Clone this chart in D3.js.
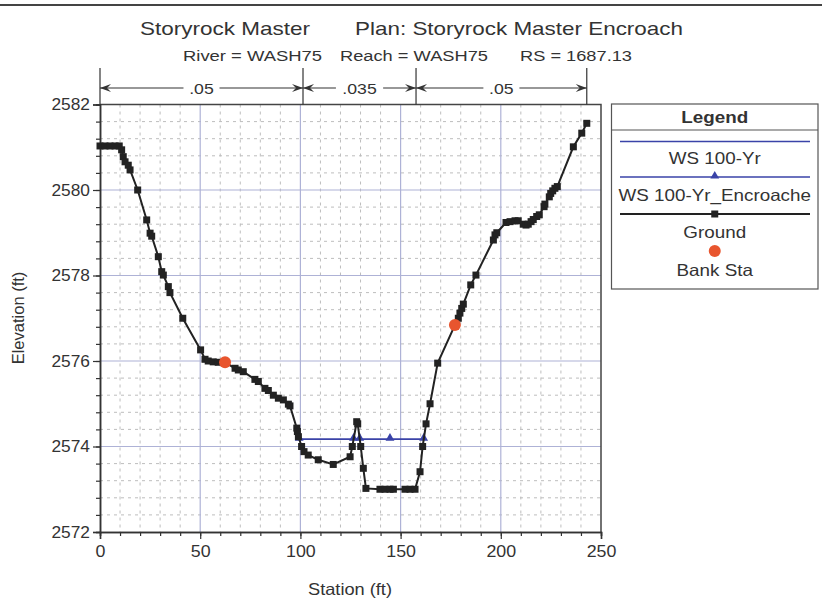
<!DOCTYPE html>
<html>
<head>
<meta charset="utf-8">
<script src="https://cdn.jsdelivr.net/npm/d3@7"></script>
<style>
  body { margin: 0; background: #fff; }
  text { font-family: "Liberation Sans", Arial, sans-serif; fill: #333; }
</style>
</head>
<body>
<svg id="chart" width="822" height="600"></svg>
<script>
// Cross section ground points (station ft, elevation ft)
const stations = [0, 2.5, 5, 7.5, 9.6, 10.8, 11.6, 12.5, 14.1, 15.0, 18.8, 23.3, 25.0, 25.8, 29.1, 30.8, 31.6, 34.1, 34.9, 41.3,
  50.2, 52.4, 54.0, 56.5, 59.0, 62.4, 67.4, 69.0, 71.5, 77.3, 79.0, 82.3, 84.0, 86.5, 89.0, 91.5, 94.0, 94.8, 98.2, 98.5,
  99.0, 100.6, 101.8, 103.9, 108.9, 116.4, 124.8, 125.9, 128.1, 128.6, 130.1, 131.4, 132.7, 139.7, 142.2, 144.7, 146.4, 152.2, 154.7, 157.2,
  159.7, 161.0, 162.7, 164.7, 168.5, 177.1, 178.8, 179.6, 180.5, 181.3, 185.0, 187.6, 196.3, 197.1, 198.0, 202.6, 204.6, 207.1, 208.7, 211.2,
  212.6, 213.7, 215.1, 216.2, 217.9, 219.2, 221.6, 222.0, 224.2, 224.9, 225.9, 227.0, 228.2, 236.2, 240.4, 242.9];
const elevations = [2581.03, 2581.03, 2581.03, 2581.03, 2581.03, 2580.94, 2580.78, 2580.66, 2580.58, 2580.47, 2580.00, 2579.30, 2578.99, 2578.92, 2578.44, 2578.09, 2578.01, 2577.74, 2577.60, 2577.00,
  2576.26, 2576.04, 2576.00, 2575.98, 2575.97, 2575.97, 2575.83, 2575.79, 2575.75, 2575.57, 2575.52, 2575.36, 2575.31, 2575.20, 2575.13, 2575.09, 2574.99, 2574.95, 2574.43, 2574.35,
  2574.23, 2574.00, 2573.88, 2573.80, 2573.69, 2573.58, 2573.76, 2574.00, 2574.58, 2574.53, 2574.00, 2573.49, 2573.02, 2573.00, 2573.00, 2573.00, 2573.00, 2573.00, 2573.00, 2573.00,
  2573.41, 2574.00, 2574.53, 2575.00, 2575.95, 2576.84, 2577.00, 2577.12, 2577.23, 2577.33, 2577.78, 2578.01, 2578.83, 2578.95, 2579.00, 2579.24, 2579.26, 2579.28, 2579.28, 2579.20,
  2579.18, 2579.20, 2579.26, 2579.31, 2579.38, 2579.42, 2579.61, 2579.67, 2579.84, 2579.92, 2579.98, 2580.04, 2580.08, 2581.01, 2581.33, 2581.56];

// Bank stations
const bankStations = [62.4, 177.1];
const bankElevations = [2575.97, 2576.84];

// Water surface profiles
const wsStations = [99.4, 161.5];
const wsElevations = [2574.17, 2574.17];
const encStations = [99.4, 126.5, 129.6, 144.7, 161.5];
const encElevations = [2574.17, 2574.17, 2574.17, 2574.17, 2574.17];

// Manning's n break stations and values
const nBreaks = [0, 101.3, 157.7, 242.9];
const nValues = [".05", ".035", ".05"];

// Axis ticks
const xTicks = [0, 50, 100, 150, 200, 250];
const yTicks = [2572, 2574, 2576, 2578, 2580, 2582];
const xMinor = d3.range(0, 251, 10);
const yMinor = d3.range(0, 26).map(i => 2572 + i * 0.4);

const legendItems = ["WS 100-Yr", "WS 100-Yr_Encroache", "Ground", "Bank Sta"];

const BLUE = "#3a43a8", RED = "#e8552e", INK = "#222";
const SX = 1.14; // horizontal text widening

const svg = d3.select("#chart");
const plot = { left: 100, right: 601, top: 104.5, bottom: 532 };
const x = d3.scaleLinear().domain([0, 250]).range([plot.left, plot.right]);
const y = d3.scaleLinear().domain([2572, 2582]).range([plot.bottom, plot.top]);

function widen(sel, k = SX) {
  sel.each(function () {
    const w = this.getComputedTextLength();
    d3.select(this).attr("textLength", w * k).attr("lengthAdjust", "spacingAndGlyphs");
  });
  return sel;
}
function fitText(sel, w) {
  return sel.attr("textLength", w).attr("lengthAdjust", "spacingAndGlyphs");
}

// Top border
svg.append("line").attr("x1", 0).attr("x2", 822).attr("y1", 5).attr("y2", 5)
  .attr("stroke", "#444").attr("stroke-width", 2);

// Titles
fitText(svg.append("text").attr("x", 140).attr("y", 35).attr("font-size", 19).text("Storyrock Master"), 170);
fitText(svg.append("text").attr("x", 355).attr("y", 35).attr("font-size", 19).text("Plan: Storyrock Master Encroach"), 328);
fitText(svg.append("text").attr("x", 183).attr("y", 60.5).attr("font-size", 15.5).text("River = WASH75"), 139);
fitText(svg.append("text").attr("x", 340).attr("y", 60.5).attr("font-size", 15.5).text("Reach = WASH75"), 148);
fitText(svg.append("text").attr("x", 520).attr("y", 60.5).attr("font-size", 15.5).text("RS = 1687.13"), 112);

// Grid
const grid = svg.append("g");
grid.selectAll(".vminor").data(xMinor.filter(d => d % 50 !== 0)).join("line")
  .attr("x1", d => x(d)).attr("x2", d => x(d)).attr("y1", plot.top).attr("y2", plot.bottom)
  .attr("stroke", "#bdbdbd").attr("stroke-dasharray", "3,4");
grid.selectAll(".hminor").data(yMinor.filter((d, i) => i % 5 !== 0)).join("line")
  .attr("x1", plot.left).attr("x2", plot.right).attr("y1", d => y(d)).attr("y2", d => y(d))
  .attr("stroke", "#bdbdbd").attr("stroke-dasharray", "3,4");
grid.selectAll(".vmajor").data(xTicks.slice(1, -1)).join("line")
  .attr("x1", d => x(d)).attr("x2", d => x(d)).attr("y1", plot.top).attr("y2", plot.bottom)
  .attr("stroke", "#aeb2d6").attr("stroke-width", 1.2);
grid.selectAll(".hmajor").data(yTicks.slice(1, -1)).join("line")
  .attr("x1", plot.left).attr("x2", plot.right).attr("y1", d => y(d)).attr("y2", d => y(d))
  .attr("stroke", "#aeb2d6").attr("stroke-width", 1.2);

// Frame (top and right)
svg.append("path")
  .attr("d", `M${plot.left},${plot.top}H${plot.right}V${plot.bottom}`)
  .attr("fill", "none").attr("stroke", "#444").attr("stroke-width", 1.5);

// Axes
const xMinorAxis = svg.append("g").attr("transform", `translate(0,${plot.bottom})`)
  .call(d3.axisBottom(x).tickValues(xMinor).tickSize(4).tickFormat(""));
const xAxis = svg.append("g").attr("transform", `translate(0,${plot.bottom})`)
  .call(d3.axisBottom(x).tickValues(xTicks).tickSize(7).tickPadding(6).tickFormat(d3.format("d")));
const yMinorAxis = svg.append("g").attr("transform", `translate(${plot.left},0)`)
  .call(d3.axisLeft(y).tickValues(yMinor).tickSize(4).tickFormat(""));
const yAxis = svg.append("g").attr("transform", `translate(${plot.left},0)`)
  .call(d3.axisLeft(y).tickValues(yTicks).tickSize(7).tickPadding(3).tickFormat(d3.format("d")));
[xMinorAxis, xAxis, yMinorAxis, yAxis].forEach(g => {
  g.selectAll("path.domain").attr("stroke", "#333").attr("stroke-width", 1.5);
  g.selectAll(".tick line").attr("stroke", "#333").attr("stroke-width", 1.2);
});
[xAxis, yAxis].forEach(g => {
  g.selectAll(".tick text").attr("font-size", 16.5).attr("fill", "#333")
    .attr("font-family", "Liberation Sans, Arial, sans-serif");
});
widen(xAxis.selectAll(".tick text"), 1.08);
widen(yAxis.selectAll(".tick text"), 1.05);

// Axis titles
fitText(svg.append("text").attr("x", 350).attr("y", 595).attr("text-anchor", "middle")
  .attr("font-size", 16.5).text("Station (ft)"), 84);
svg.append("text").attr("transform", "translate(24,318) rotate(-90)").attr("text-anchor", "middle")
  .attr("font-size", 16.5).text("Elevation (ft)");

// Manning's n bar
const nBar = svg.append("g");
const nY = 88;
nBar.selectAll("line.tick").data(nBreaks).join("line")
  .attr("x1", d => x(d)).attr("x2", d => x(d)).attr("y1", 68).attr("y2", plot.top)
  .attr("stroke", "#333").attr("stroke-width", 1.2);
function arrowHead(tipX, dir) {
  // dir = -1 points left, +1 points right
  const b = tipX - dir * 11;
  return `M${tipX},${nY}L${b},${nY - 4}L${tipX - dir * 7},${nY}L${b},${nY + 4}Z`;
}
nValues.forEach((v, i) => {
  const x0 = x(nBreaks[i]), x1 = x(nBreaks[i + 1]), cx = (x0 + x1) / 2;
  const t = nBar.append("text").attr("x", cx).attr("y", nY + 5.5).attr("text-anchor", "middle")
    .attr("font-size", 15.5).text(v);
  widen(t);
  const w = t.node().getComputedTextLength() * SX;
  nBar.append("line").attr("x1", x0).attr("x2", cx - w / 2 - 4).attr("y1", nY).attr("y2", nY)
    .attr("stroke", "#333").attr("stroke-width", 1.2);
  nBar.append("line").attr("x1", cx + w / 2 + 4).attr("x2", x1).attr("y1", nY).attr("y2", nY)
    .attr("stroke", "#333").attr("stroke-width", 1.2);
  nBar.append("path").attr("d", arrowHead(x0, -1)).attr("fill", "#333");
  nBar.append("path").attr("d", arrowHead(x1, 1)).attr("fill", "#333");
});

// Water surfaces
const wsLine = d3.line().x(d => x(d[0])).y(d => y(d[1]));
svg.append("path").datum(d3.zip(wsStations, wsElevations)).attr("d", wsLine)
  .attr("fill", "none").attr("stroke", BLUE).attr("stroke-width", 1.5);
const encPts = d3.zip(encStations, encElevations);
svg.append("path").datum(encPts).attr("d", wsLine)
  .attr("fill", "none").attr("stroke", BLUE).attr("stroke-width", 1.5);
const tri = d3.symbol().type(d3.symbolTriangle).size(34);
svg.selectAll(".enc").data(encPts).join("path")
  .attr("transform", d => `translate(${x(d[0])},${y(d[1]) - 1})`).attr("d", tri).attr("fill", BLUE);

// Ground
const groundPts = d3.zip(stations, elevations);
svg.append("path").datum(groundPts).attr("d", wsLine)
  .attr("fill", "none").attr("stroke", INK).attr("stroke-width", 2);
const sq = 7;
svg.selectAll(".gpt").data(groundPts).join("rect")
  .attr("x", d => x(d[0]) - sq / 2).attr("y", d => y(d[1]) - sq / 2)
  .attr("width", sq).attr("height", sq).attr("fill", INK);

// Bank stations
svg.selectAll(".bank").data(d3.zip(bankStations, bankElevations)).join("circle")
  .attr("cx", d => x(d[0])).attr("cy", d => y(d[1])).attr("r", 6).attr("fill", RED);

// Legend
const lg = svg.append("g");
const L = { x0: 611.5, x1: 818, y0: 104, y1: 289 };
const lcx = (L.x0 + L.x1) / 2;
lg.append("rect").attr("x", L.x0).attr("y", L.y0).attr("width", L.x1 - L.x0).attr("height", L.y1 - L.y0)
  .attr("fill", "#fff").attr("stroke", "#555").attr("stroke-width", 1.2);
lg.append("line").attr("x1", L.x0).attr("x2", L.x1).attr("y1", 130).attr("y2", 130)
  .attr("stroke", "#555").attr("stroke-width", 1.2);
widen(lg.append("text").attr("x", lcx).attr("y", 123).attr("text-anchor", "middle")
  .attr("font-size", 16.5).attr("font-weight", "bold").text("Legend"));
const lineYs = [141.5, 177, 214];
const textYs = [164, 201, 238, 276];
lg.selectAll(".ll").data(lineYs).join("line")
  .attr("x1", 620).attr("x2", 810).attr("y1", d => d).attr("y2", d => d)
  .attr("stroke", (d, i) => i < 2 ? BLUE : INK).attr("stroke-width", (d, i) => i < 2 ? 1.5 : 1.8);
lg.append("path").attr("transform", `translate(${lcx},${lineYs[1] - 1})`).attr("d", tri).attr("fill", BLUE);
lg.append("rect").attr("x", lcx - sq / 2).attr("y", lineYs[2] - sq / 2).attr("width", sq).attr("height", sq).attr("fill", INK);
lg.append("circle").attr("cx", lcx).attr("cy", 251).attr("r", 6).attr("fill", RED);
widen(lg.selectAll(".lt").data(legendItems).join("text")
  .attr("x", lcx).attr("y", (d, i) => textYs[i]).attr("text-anchor", "middle")
  .attr("font-size", 16.5).text(d => d));
</script>
</body>
</html>
